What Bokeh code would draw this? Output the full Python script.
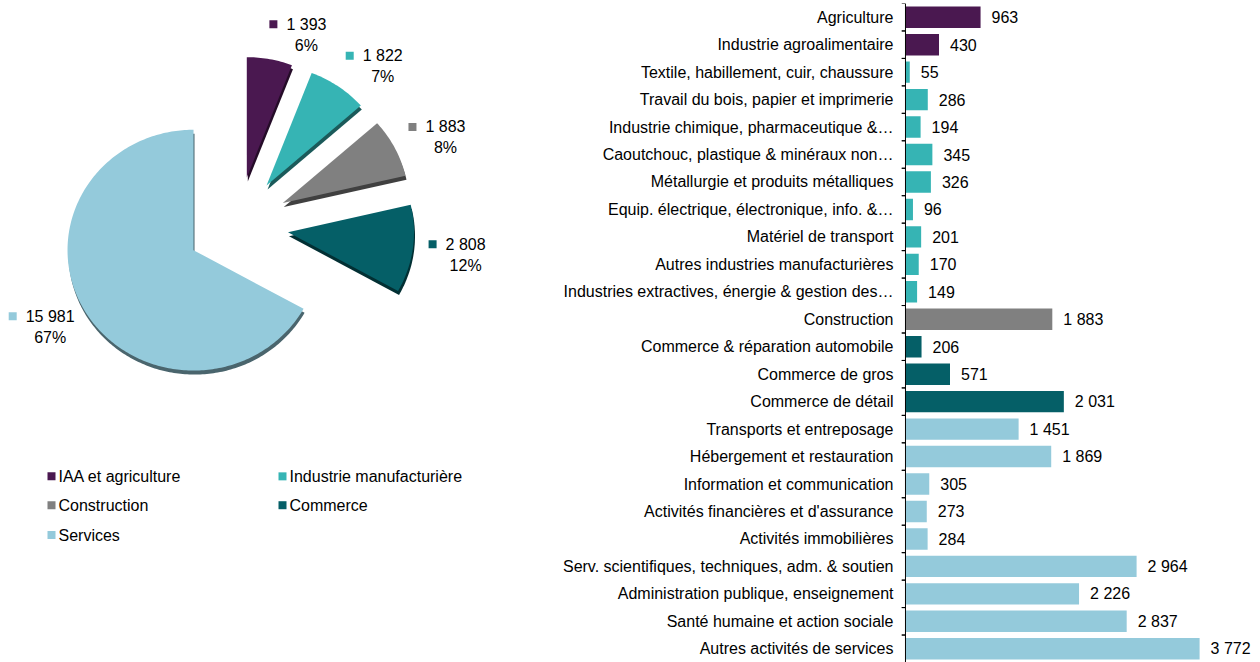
import math
from bokeh.plotting import figure
from bokeh.models import Range1d, FactorRange, ColumnDataSource, Span
from bokeh.transform import dodge
from bokeh.layouts import row
from bokeh.embed import file_html
from bokeh.resources import INLINE
from bokeh.core.properties import value

# ---------------- data ----------------
sectors = ["IAA et agriculture", "Industrie manufacturière", "Construction", "Commerce", "Services"]
sector_values = [1393, 1822, 1883, 2808, 15981]
sector_pct_labels = ["6%", "7%", "8%", "12%", "67%"]

branches = [
    "Agriculture",
    "Industrie agroalimentaire",
    "Textile, habillement, cuir, chaussure",
    "Travail du bois, papier et imprimerie",
    "Industrie chimique, pharmaceutique &…",
    "Caoutchouc, plastique & minéraux non…",
    "Métallurgie et produits métalliques",
    "Equip. électrique, électronique, info. &…",
    "Matériel de transport",
    "Autres industries manufacturières",
    "Industries extractives, énergie & gestion des…",
    "Construction",
    "Commerce & réparation automobile",
    "Commerce de gros",
    "Commerce de détail",
    "Transports et entreposage",
    "Hébergement et restauration",
    "Information et communication",
    "Activités financières et d'assurance",
    "Activités immobilières",
    "Serv. scientifiques, techniques, adm. & soutien",
    "Administration publique, enseignement",
    "Santé humaine et action sociale",
    "Autres activités de services",
]
branch_values = [963, 430, 55, 286, 194, 345, 326, 96, 201, 170, 149,
                 1883, 206, 571, 2031, 1451, 1869, 305, 273, 284,
                 2964, 2226, 2837, 3772]
branch_sector = [0, 0, 1, 1, 1, 1, 1, 1, 1, 1, 1,
                 2, 3, 3, 3, 4, 4, 4, 4, 4,
                 4, 4, 4, 4]

# ---------------- styles ----------------
sector_colors = ["#4A1850", "#36B4B4", "#808080", "#055F67", "#94CADB"]
FONT = "Liberation Sans"
FSIZE = "16px"
TXT = "#000000"


def fmt(v):
    return f"{v:,}".replace(",", " ")


def darker(hx, f=0.5):
    r, g, b = int(hx[1:3], 16), int(hx[3:5], 16), int(hx[5:7], 16)
    return "#%02x%02x%02x" % (int(r * f), int(g * f), int(b * f))


def text_w(s):
    return sum((0.278 if ch == " " else 0.556) for ch in s) * 16


# ---------------- pie (slightly tilted, exploded) ----------------
R = 126          # pie radius (px)
K = 0.96         # vertical squash of the tilted pie
EXPLODE = 51     # explosion distance (px)
RLAB = 197       # label anchor distance (px)
CX_PAGE, CY_PAGE = 237, 223
PIE_W, H = 558, 662
total = float(sum(sector_values))

pie = figure(width=PIE_W, height=H,
             x_range=Range1d(-CX_PAGE, PIE_W - CX_PAGE),
             y_range=Range1d(CY_PAGE - H, CY_PAGE),
             output_backend="svg", toolbar_location=None,
             min_border=0, min_border_left=0, min_border_right=0,
             min_border_top=0, min_border_bottom=0)
pie.axis.visible = False
pie.grid.visible = False
pie.outline_line_color = None

cum = 0.0
sl = dict(xs=[], ys=[], sxs=[], sys=[], color=[], shadow=[], name=[])
lab = dict(vx=[], vy=[], px=[], py=[], mx=[], my=[], vtxt=[], ptxt=[], color=[])
for i, v in enumerate(sector_values):
    a1 = 90 - cum / total * 360
    a0 = 90 - (cum + v) / total * 360
    cum += v
    mid = math.radians((a0 + a1) / 2)
    c, s = math.cos(mid), math.sin(mid)
    cx, cy = EXPLODE * c, K * EXPLODE * s
    n = max(int(a1 - a0), 2)
    angs = [math.radians(a1 - (a1 - a0) * j / n) for j in range(n + 1)]
    xs = [cx] + [cx + R * math.cos(t) for t in angs]
    ys = [cy] + [cy + K * R * math.sin(t) for t in angs]
    sl["xs"].append(xs); sl["ys"].append(ys)
    sl["sxs"].append([x + 1 for x in xs]); sl["sys"].append([y - 4 for y in ys])
    sl["color"].append(sector_colors[i]); sl["shadow"].append(darker(sector_colors[i]))
    sl["name"].append(sectors[i])

    vt = fmt(v)
    tw = text_w(vt)
    ax, ay = RLAB * c, RLAB * s - 2
    if c >= 0:
        mx = ax
        tx = ax + 13 + tw / 2
    else:
        tx = ax - tw / 2 + 7
        mx = tx - tw / 2 - 13
    lab["vx"].append(tx); lab["vy"].append(ay + 10.5)
    lab["px"].append(tx); lab["py"].append(ay - 10.5)
    lab["mx"].append(mx); lab["my"].append(ay + 10.5)
    lab["vtxt"].append(vt); lab["ptxt"].append(sector_pct_labels[i])
    lab["color"].append(sector_colors[i])

ssrc = ColumnDataSource(sl)
pie.patches(xs="sxs", ys="sys", fill_color="shadow", line_color=None, source=ssrc)
pie.patches(xs="xs", ys="ys", fill_color="color", line_color=None, source=ssrc)

lsrc = ColumnDataSource(lab)
pie.scatter(x="mx", y="my", marker="square", size=8, fill_color="color", line_color=None, source=lsrc)
pie.text(x="vx", y="vy", text="vtxt", text_align="center", text_baseline="middle",
         text_font=value(FONT), text_font_size=FSIZE, text_color=TXT, source=lsrc)
pie.text(x="px", y="py", text="ptxt", text_align="center", text_baseline="middle",
         text_font=value(FONT), text_font_size=FSIZE, text_color=TXT, source=lsrc)

# manual legend (2 columns, row-major), positions in page pixels
leg_cols_page = [51, 282]
leg_rows_page = [475, 504, 534]
leg = dict(mx=[], tx=[], y=[], name=[], color=[])
for i, name in enumerate(sectors):
    r_, c_ = divmod(i, 2)
    mxp = leg_cols_page[c_] - CX_PAGE
    leg["mx"].append(mxp); leg["tx"].append(mxp + 7)
    leg["y"].append(CY_PAGE - leg_rows_page[r_]); leg["name"].append(name)
    leg["color"].append(sector_colors[i])
gsrc = ColumnDataSource(leg)
pie.scatter(x="mx", y="y", marker="square", size=8, fill_color="color", line_color=None, source=gsrc)
pie.text(x="tx", y="y", text="name", text_align="left", text_baseline="middle",
         text_font=value(FONT), text_font_size=FSIZE, text_color=TXT, source=gsrc)

# ---------------- bars ----------------
factors = list(reversed(branches))
BAR_W = 1260 - PIE_W
pb = figure(width=BAR_W, height=H, y_range=FactorRange(*factors, range_padding=0),
            x_range=Range1d(-51, 4553), output_backend="svg", toolbar_location=None,
            min_border_left=343, min_border_right=0, min_border_top=3, min_border_bottom=0)
pb.xaxis.visible = False
pb.grid.visible = False
pb.outline_line_color = None

bsrc = ColumnDataSource(dict(
    cat=branches,
    val=branch_values,
    lbl=[fmt(v) for v in branch_values],
    color=[sector_colors[g] for g in branch_sector],
))
pb.hbar(y="cat", left=0, right="val", height=0.78, fill_color="color", line_color=None, source=bsrc)
pb.text(x="val", y="cat", text="lbl", x_offset=11, text_baseline="middle",
        text_font=value(FONT), text_font_size=FSIZE, text_color=TXT, source=bsrc)

pb.add_layout(Span(location=0, dimension="height", line_color="black", line_width=1))
for off in (-0.5, 0.5):
    pb.segment(x0=-51, x1=0, y0=dodge("cat", off, range=pb.y_range), y1=dodge("cat", off, range=pb.y_range),
               line_color="black", line_width=1, source=bsrc)

yax = pb.yaxis[0]
yax.axis_line_color = None
yax.major_tick_line_color = None
yax.minor_tick_line_color = None
yax.major_tick_out = 0
yax.major_tick_in = 0
yax.major_label_standoff = 8
yax.major_label_text_font = FONT
yax.major_label_text_font_size = FSIZE
yax.major_label_text_color = TXT

layout = row(pie, pb)
open("out.html", "w").write(file_html(layout, INLINE))
